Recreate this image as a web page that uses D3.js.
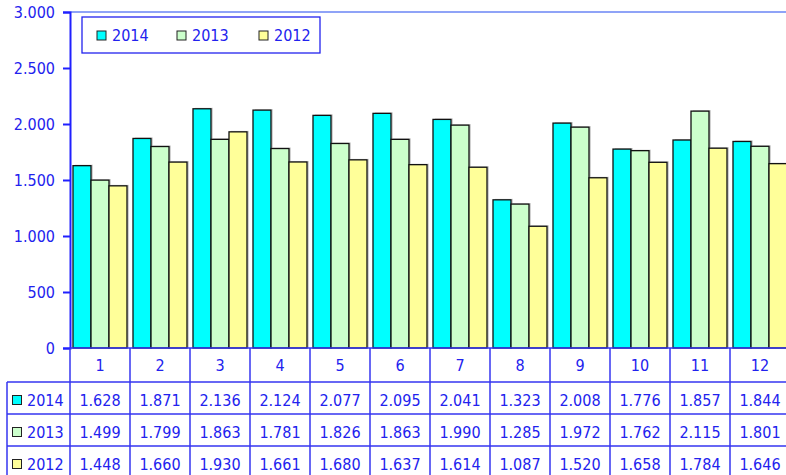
<!DOCTYPE html>
<html>
<head>
<meta charset="utf-8">
<script src="https://cdn.jsdelivr.net/npm/d3@7"></script>
<style>
  body { margin: 0; background: #fff; }
  text { font-family: "DejaVu Sans Condensed", "DejaVu Sans", sans-serif; fill: #2222ee; }
</style>
</head>
<body>
<svg id="chart-area"></svg>
<script>
// data
const months = ["1", "2", "3", "4", "5", "6", "7", "8", "9", "10", "11", "12"]
const years = ["2014", "2013", "2012"]
const values2014 = [1628, 1871, 2136, 2124, 2077, 2095, 2041, 1323, 2008, 1776, 1857, 1844]
const values2013 = [1499, 1799, 1863, 1781, 1826, 1863, 1990, 1285, 1972, 1762, 2115, 1801]
const values2012 = [1448, 1660, 1930, 1661, 1680, 1637, 1614, 1087, 1520, 1658, 1784, 1646]
const yTicks = [0, 500, 1000, 1500, 2000, 2500, 3000]

const series = [values2014, values2013, values2012]
const colors = ["#00ffff", "#ccffcc", "#ffff99"]

const width = 786
const height = 475
const lineBlue = "#3535f0"

const fmt = d3.formatLocale({ decimal: ",", thousands: ".", grouping: [3], currency: ["", ""] }).format(",")

const svg = d3.select("#chart-area")
    .attr("width", width)
    .attr("height", height)

const x = d3.scaleBand()
    .domain(months)
    .range([70, 790])
    .paddingInner(0.1)
    .paddingOuter(0.05)

const x1 = d3.scaleBand()
    .domain(years)
    .range([0, x.bandwidth()])

const y = d3.scaleLinear()
    .domain([0, 3000])
    .range([348, 12])

// top border of plot area
svg.append("line")
    .attr("x1", 70).attr("x2", width)
    .attr("y1", y(3000)).attr("y2", y(3000))
    .attr("stroke", "#8fa3f7")
    .attr("stroke-width", 2)

// bars
const groups = svg.selectAll(".month")
    .data(months)
    .enter()
    .append("g")
    .attr("transform", d => `translate(${x(d)},0)`)

years.forEach((yr, si) => {
    // soft shadow
    groups.append("rect")
        .attr("x", (d, i) => x1(yr) + 2)
        .attr("y", (d, i) => y(series[si][i]) - 1)
        .attr("width", x1.bandwidth())
        .attr("height", (d, i) => y(0) - y(series[si][i]) + 1)
        .attr("fill", "#000")
        .attr("opacity", 0.18)
})
years.forEach((yr, si) => {
    groups.append("rect")
        .attr("x", (d, i) => x1(yr))
        .attr("y", (d, i) => y(series[si][i]))
        .attr("width", x1.bandwidth())
        .attr("height", (d, i) => y(0) - y(series[si][i]))
        .attr("fill", colors[si])
        .attr("stroke", "#111")
        .attr("stroke-width", 1.3)
})

// y axis
const yAxis = svg.append("g")
    .attr("transform", "translate(70,0)")
    .call(d3.axisLeft(y).tickValues(yTicks).tickSize(7).tickPadding(8).tickFormat(fmt))
yAxis.select(".domain").attr("stroke", "#2020ff").attr("stroke-width", 2)
yAxis.selectAll(".tick line").attr("stroke", "#2020ff").attr("stroke-width", 2)
yAxis.selectAll(".tick text")
    .attr("font-size", 16)
    .attr("fill", "#2222ee")
    .attr("font-family", "DejaVu Sans Condensed, DejaVu Sans, sans-serif")

// data table
const rowTop = [348, 382, 414, 446, 478]
const table = svg.append("g")
    .attr("stroke", lineBlue)
    .attr("stroke-width", 1.5)

// horizontal lines
table.append("line").attr("x1", 70).attr("x2", width).attr("y1", rowTop[0]).attr("y2", rowTop[0])
rowTop.slice(1, 4).forEach(r => {
    table.append("line").attr("x1", 7).attr("x2", width).attr("y1", r).attr("y2", r)
})
// vertical lines
table.append("line").attr("x1", 7).attr("x2", 7).attr("y1", rowTop[1]).attr("y2", height)
months.concat(["end"]).forEach((m, i) => {
    const xx = 70 + i * x.step()
    table.append("line").attr("x1", xx).attr("x2", xx).attr("y1", rowTop[0]).attr("y2", height)
})

// category labels
svg.selectAll(".cat")
    .data(months)
    .enter()
    .append("text")
    .attr("x", d => x(d) + x.bandwidth() / 2)
    .attr("y", (rowTop[0] + rowTop[1]) / 2)
    .attr("dy", "0.36em")
    .attr("text-anchor", "middle")
    .attr("font-size", 16)
    .text(d => d)

// row headers and values
years.forEach((yr, si) => {
    const cy = (rowTop[si + 1] + rowTop[si + 2]) / 2 + 2
    svg.append("rect")
        .attr("x", 12.5).attr("y", cy - 4.5)
        .attr("width", 9).attr("height", 9)
        .attr("fill", colors[si])
        .attr("stroke", "#222")
    svg.append("text")
        .attr("x", 27).attr("y", cy)
        .attr("dy", "0.36em")
        .attr("font-size", 16)
        .text(yr)
    svg.selectAll(".v" + yr)
        .data(series[si])
        .enter()
        .append("text")
        .attr("x", (d, i) => x(months[i]) + x.bandwidth() / 2)
        .attr("y", cy)
        .attr("dy", "0.36em")
        .attr("text-anchor", "middle")
        .attr("font-size", 16)
        .text(d => fmt(d))
})

// legend
const legend = svg.append("g")
legend.append("rect")
    .attr("x", 82).attr("y", 17)
    .attr("width", 238).attr("height", 36)
    .attr("fill", "#fff")
    .attr("stroke", "#2222ee")
    .attr("stroke-width", 1.3)
const legendX = [97, 177, 259]
years.forEach((yr, si) => {
    legend.append("rect")
        .attr("x", legendX[si]).attr("y", 31)
        .attr("width", 9).attr("height", 9)
        .attr("fill", colors[si])
        .attr("stroke", "#222")
    legend.append("text")
        .attr("x", legendX[si] + 15).attr("y", 35.5)
        .attr("dy", "0.36em")
        .attr("font-size", 16)
        .text(yr)
})
</script>
</body>
</html>
